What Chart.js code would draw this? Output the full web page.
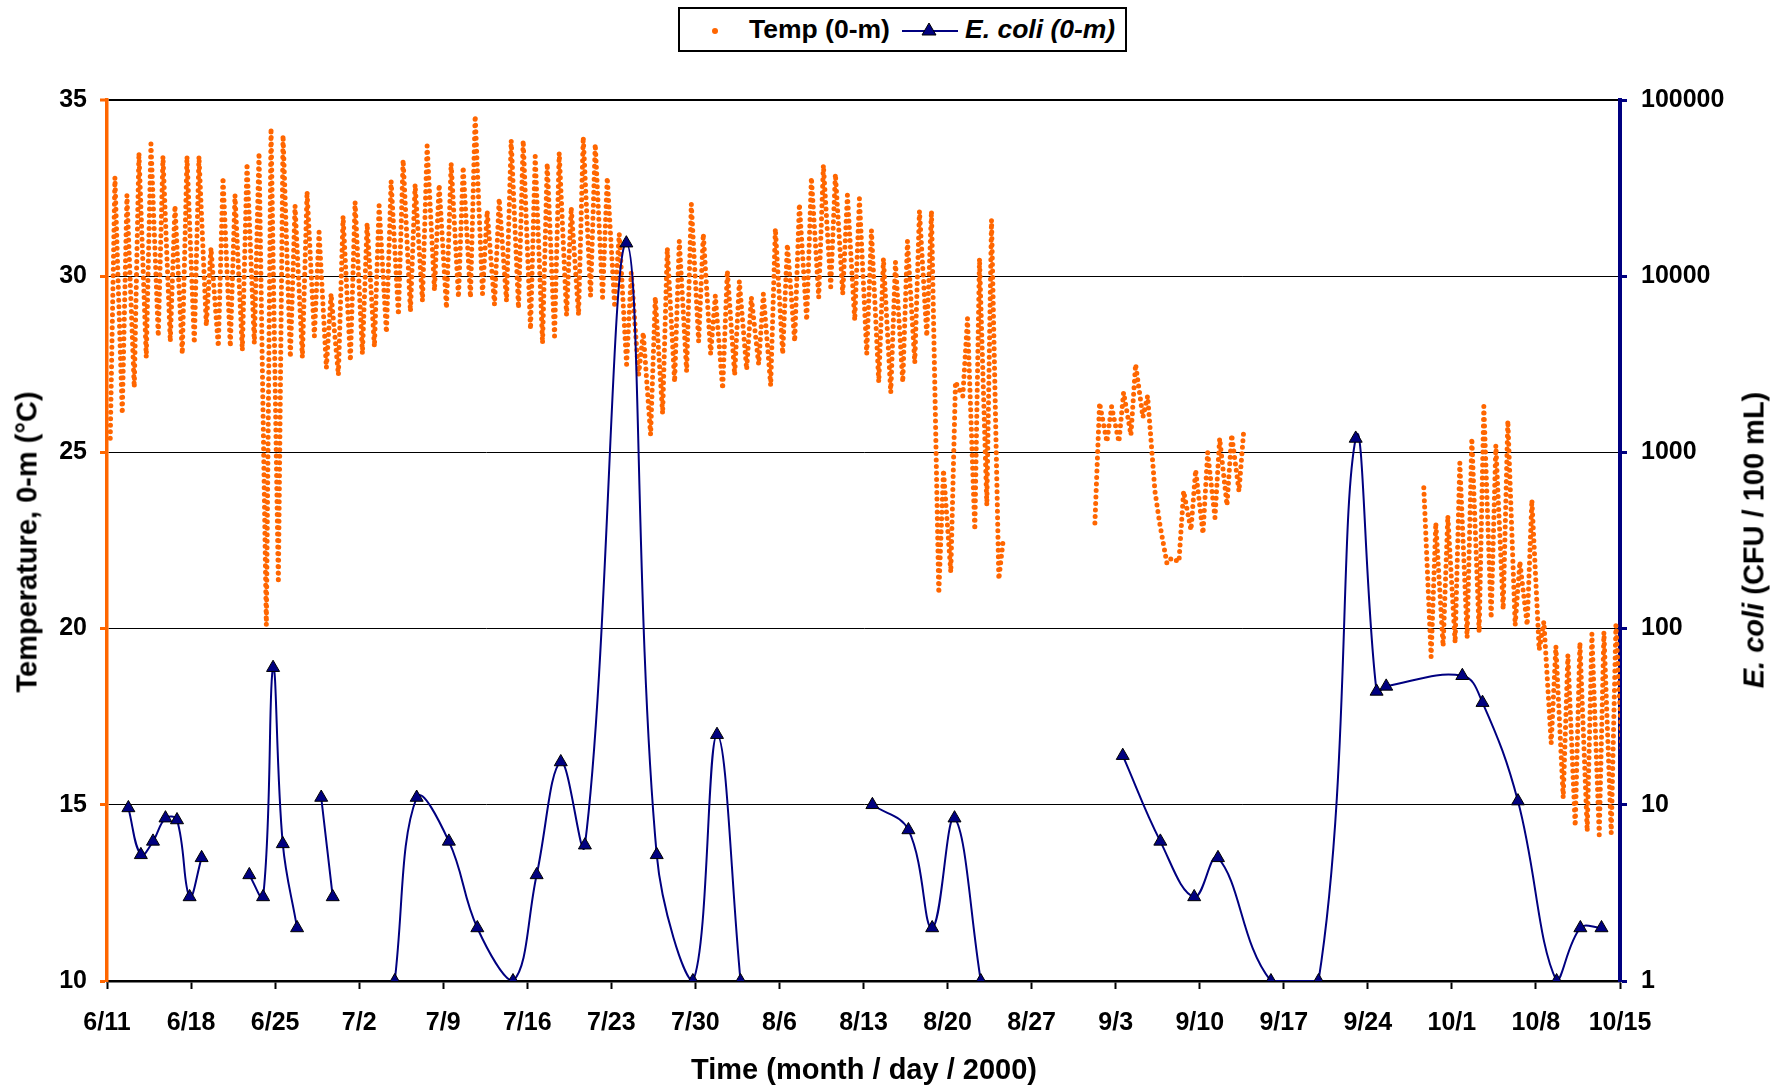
<!DOCTYPE html>
<html>
<head>
<meta charset="utf-8">
<script src="https://cdn.jsdelivr.net/npm/chart.js@4.4.0/dist/chart.umd.min.js"></script>
<style>
  body { margin: 0; background: #fff; }
  #wrap { position: relative; width: 1789px; height: 1088px; font-family: 'Liberation Sans', Arial, sans-serif; font-weight: bold; color: #000; }
  canvas { position: absolute; left: 0; top: 0; }
  .t { position: absolute; white-space: nowrap; }
  #legend { position: absolute; left: 678px; top: 7px; width: 445px; height: 41px; border: 2px solid #000; background: #fff; font-size: 26.5px; line-height: 41px; }
  #legend .dot { position: absolute; left: 32px; top: 19px; width: 6px; height: 6px; border-radius: 50%; background: #FF6600; }
  #legend .ln { position: absolute; left: 222px; top: 21px; width: 56px; height: 2px; background: #000080; }
  #legend svg { position: absolute; left: 241px; top: 13px; }
  .rot { transform: translate(-50%, -50%) rotate(-90deg); }
</style>
</head>
<body>
<div id="wrap">
  <canvas id="c" width="1789" height="1088"></canvas>
  <div id="legend">
    <span class="dot"></span>
    <span class="t" style="left:69px;top:0">Temp (0-m)</span>
    <span class="ln"></span>
    <svg width="16" height="14"><polygon points="8,1 15,13 1,13" fill="#000080" stroke="#000" stroke-width="1"/></svg>
    <span class="t" style="left:285px;top:0"><i>E. coli (0-m)</i></span>
  </div>
  <div class="t" style="left:864px;top:1069px;font-size:29px;transform:translate(-50%,-50%)">Time (month / day / 2000)</div>
  <div class="t rot" style="left:27px;top:542px;font-size:29px">Temperature, 0-m (°C)</div>
  <div class="t rot" style="left:1754px;top:540px;font-size:29px"><i>E. coli</i> (CFU / 100 mL)</div>
</div>
<script>
// x axis: days since 6/11/2000, one tick per week
const weekTicks = [0, 7, 14, 21, 28, 35, 42, 49, 56, 63, 70, 77, 84, 91, 98, 105, 112, 119, 126];
const weekLabels = ['6/11', '6/18', '6/25', '7/2', '7/9', '7/16', '7/23', '7/30', '8/6', '8/13',
  '8/20', '8/27', '9/3', '9/10', '9/17', '9/24', '10/1', '10/8', '10/15'];
const ecoliTicks = [1, 10, 100, 1000, 10000, 100000];

// daily min / max water temperature (°C), day 0 = 6/11
const dailyLow = [
  25.4, 26.1, 26.85, 27.7, 28.3, 28.15, 27.8, 28.1, 28.6, 28.0,
  28.0, 27.9, 28.1, 20.1, 21.3, 27.7, 27.7, 28.3, 27.4, 27.2,
  27.6, 27.8, 28.0, 28.4, 28.9, 29.0, 29.3, 29.6, 29.1, 29.4,
  29.4, 29.5, 29.2, 29.3, 29.1, 28.5, 28.1, 28.3, 28.9, 28.9,
  29.45, 29.4, 29.2, 27.5, 27.2, 25.5, 26.1, 27.0, 27.3, 28.15,
  27.8, 26.8, 27.2, 27.35, 27.5, 26.9, 27.8, 28.15, 28.75, 29.4,
  29.7, 29.5, 28.75, 27.8, 27.0, 26.7, 27.0, 27.55, 28.3, 21.0,
  21.6, 26.6, 22.8, 23.5, 21.4, null, null, null, null, null,
  null, null, 23.0, 25.3, 25.3, 25.5, 26.0, 23.9, 21.85, 21.9,
  22.8, 22.7, 23.15, 23.5, 23.9, null, null, null, null, null,
  null, null, null, null, null, null, null, null, null, null,
  19.2, 19.5, 19.6, 19.75, 19.9, 20.3, 20.55, 20.1, 20.1, 19.4,
  16.75, 15.2, 14.4, 14.25, 14.15, 14.2, 15.9
];
const dailyHigh = [
  32.8, 32.3, 33.5, 33.75, 33.4, 32.0, 33.4, 33.4, 30.8, 32.8,
  32.3, 33.2, 33.5, 34.2, 34.0, 32.0, 32.4, 31.25, 29.5, 31.7,
  32.1, 31.5, 32.0, 32.7, 33.3, 32.6, 33.7, 32.6, 33.2, 33.1,
  34.55, 31.85, 32.2, 33.85, 33.85, 33.4, 33.2, 33.5, 31.95, 33.95,
  33.75, 32.8, 31.2, 30.1, 28.4, 29.4, 30.8, 31.0, 32.05, 31.2,
  29.45, 30.15, 29.85, 29.4, 29.5, 31.35, 30.9, 32.05, 32.8, 33.15,
  32.9, 32.3, 32.2, 31.3, 30.5, 30.4, 31.0, 31.85, 31.85, 24.5,
  27.0, 28.8, 30.5, 31.6, 22.6, null, null, null, null, null,
  null, null, 26.4, 26.3, 26.7, 27.5, 26.6, 23.0, 22.0, 23.9,
  24.5, 25.0, 25.4, 25.5, 25.6, null, null, null, null, null,
  null, null, null, null, null, null, null, null, null, 24.0,
  23.0, 23.2, 24.7, 25.4, 26.3, 25.2, 25.9, 21.9, 23.65, 20.2,
  19.5, 19.25, 19.6, 19.85, 19.9, 20.1, null
];

// E. coli samples (CFU / 100 mL); null count = break in the line
const ecoliDay = [
  1.78, 2.82, 3.83, 4.87, 5.83, 6.88, 7.88, 9.8,
  11.85, 13.0, 13.83, 14.64, 15.83, 16.8,
  17.84, 18.8, 21.0,
  23.96, 25.79, 28.47, 30.84, 33.81, 35.78, 37.79, 39.8, 43.25, 45.78, 48.79, 50.8, 52.76, 58.0,
  63.74, 66.74, 68.72, 70.58, 72.77, 78.0,
  84.59, 87.72, 90.54, 92.52, 96.93, 100.89, 103.99, 105.73, 106.53, 112.87, 114.55, 117.5, 120.72, 122.7, 124.46
];
const ecoliCount = [
  9.6, 5.2, 6.2, 8.4, 8.2, 3, 5, null,
  4, 3, 60, 6, 2, null,
  11, 3, null,
  1, 11, 6.2, 2, 1, 4, 17.5, 5.9, 15400, 5.2, 1, 25, 1, null,
  10, 7.2, 2, 8.4, 1, null,
  19, 6.2, 3, 5, 1, 1, 1200, 44, 47, 54, 38, 10.5, 1, 2, 2
];

const tempPoints = [];
dailyLow.forEach((lo, d) => {
  tempPoints.push({ x: d + 0.27, y: lo });
  tempPoints.push({ x: d + 0.66, y: dailyHigh[d] });
});
const ecoliPoints = ecoliDay.map((d, i) => ({ x: d, y: ecoliCount[i] }));

const tickFont = { family: "'Liberation Sans', Arial, sans-serif", size: 25, weight: 'bold' };

new Chart(document.getElementById('c'), {
  type: 'line',
  data: {
    datasets: [{
      label: 'E. coli (0-m)',
      data: ecoliPoints,
      yAxisID: 'y1',
      order: 0,
      borderColor: '#000080',
      borderWidth: 2,
      tension: 0.4,
      spanGaps: false,
      pointStyle: 'triangle',
      pointRadius: 7.5,
      pointBackgroundColor: '#000080',
      pointBorderColor: '#000',
      pointBorderWidth: 1
    }, {
      label: 'Temp (0-m)',
      data: tempPoints,
      yAxisID: 'y',
      order: 1,
      borderColor: '#FF6600',
      borderWidth: 5,
      borderDash: [0, 6.5],
      borderCapStyle: 'round',
      tension: 0,
      spanGaps: false,
      pointRadius: 0
    }]
  },
  options: {
    responsive: false,
    devicePixelRatio: 1,
    animation: false,
    layout: { padding: { top: 100, left: 0, right: 0, bottom: 0 } },
    plugins: { legend: { display: false }, tooltip: { enabled: false } },
    scales: {
      x: {
        type: 'linear', min: 0, max: 126,
        afterBuildTicks: s => { s.ticks = weekTicks.map(v => ({ value: v })); },
        afterFit: s => { s.height = 107; },
        grid: { drawOnChartArea: false, drawTicks: true, tickLength: 8, tickColor: '#000', tickWidth: 2 },
        border: { color: '#000', width: 2.5 },
        ticks: {
          autoSkip: false, maxRotation: 0, padding: 19, color: '#000', font: tickFont,
          callback: v => weekLabels[Math.round(v / 7)]
        }
      },
      y: {
        position: 'left', min: 10, max: 35,
        afterFit: s => { s.width = 107; },
        grid: {
          color: '#000',
          lineWidth: c => (c.tick && c.tick.value === 35 ? 2 : 1),
          tickColor: '#FF6600', tickLength: 7, tickWidth: 3
        },
        border: { color: '#FF6600', width: 3.5 },
        ticks: { stepSize: 5, padding: 13, color: '#000', font: tickFont }
      },
      y1: {
        type: 'logarithmic', position: 'right', min: 1, max: 100000,
        afterBuildTicks: s => { s.ticks = ecoliTicks.map(v => ({ value: v })); },
        afterFit: s => { s.width = 169; },
        grid: { drawOnChartArea: false, tickColor: '#000080', tickLength: 7, tickWidth: 3 },
        border: { color: '#000080', width: 4 },
        ticks: { padding: 14, color: '#000', font: tickFont, callback: v => String(v) }
      }
    }
  }
});
</script>
</body>
</html>
